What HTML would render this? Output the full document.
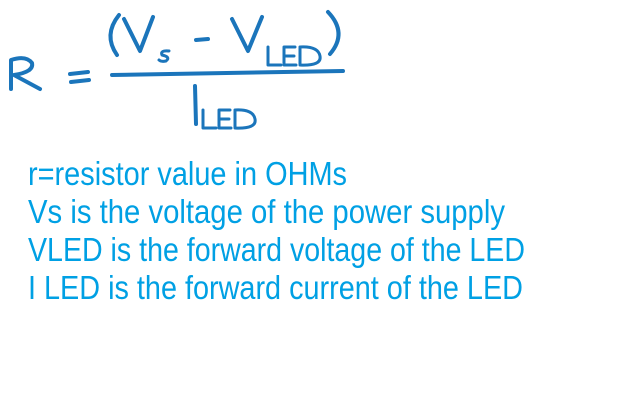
<!DOCTYPE html>
<html><head><meta charset="utf-8"><style>
html,body{margin:0;padding:0;background:#fff;width:627px;height:405px;overflow:hidden}
</style></head><body>
<svg width="627" height="405" viewBox="0 0 627 405" xmlns="http://www.w3.org/2000/svg">
<g fill="none" stroke="#1b75bb" stroke-width="4" stroke-linecap="round" stroke-linejoin="round">
  <path d="M11 89 L11 60 Q26 55 32 63 Q34 72 14 75 L40 89"/>
  <path d="M70 74 L88 72 M71 82 L89 80"/>
  <path d="M119 15 Q103 35 117 55"/>
  <path d="M124 19 L140 51 L153 17"/>
  <path d="M169 51 Q160 50 162 55 Q171 57 166 61 Q161 62 159 60" stroke-width="3"/>
  <path d="M196 40 L208 39"/>
  <path d="M232 19 L248 51 L262 17"/>
  <path d="M268 47 L268 65 L281 65 M295 47 L284 47 L284 65 L296 65 M285 56 L294 56 M300 47 L300 65 Q322 66 320 56 Q318 46 300 47" stroke-width="3"/>
  <path d="M328 12 Q348 33 330 54"/>
  <path d="M112 75 L343 71"/>
  <path d="M195 86 L196 124"/>
  <path d="M203 110 L203 128 L216 128 M230 110 L219 110 L219 128 L231 128 M220 119 L229 119 M235 110 L235 128 Q257 129 255 119 Q253 109 235 110" stroke-width="3"/>
</g>
<g fill="#00a0e4" font-family="'Liberation Sans', sans-serif" font-size="33">
  <text x="28" y="185" textLength="319" lengthAdjust="spacingAndGlyphs">r=resistor value in OHMs</text>
  <text x="28" y="223" textLength="477" lengthAdjust="spacingAndGlyphs">Vs is the voltage of the power supply</text>
  <text x="28" y="261" textLength="497" lengthAdjust="spacingAndGlyphs">VLED is the forward voltage of the LED</text>
  <text x="28" y="299" textLength="495" lengthAdjust="spacingAndGlyphs">I LED is the forward current of the LED</text>
</g>
</svg>
</body></html>
